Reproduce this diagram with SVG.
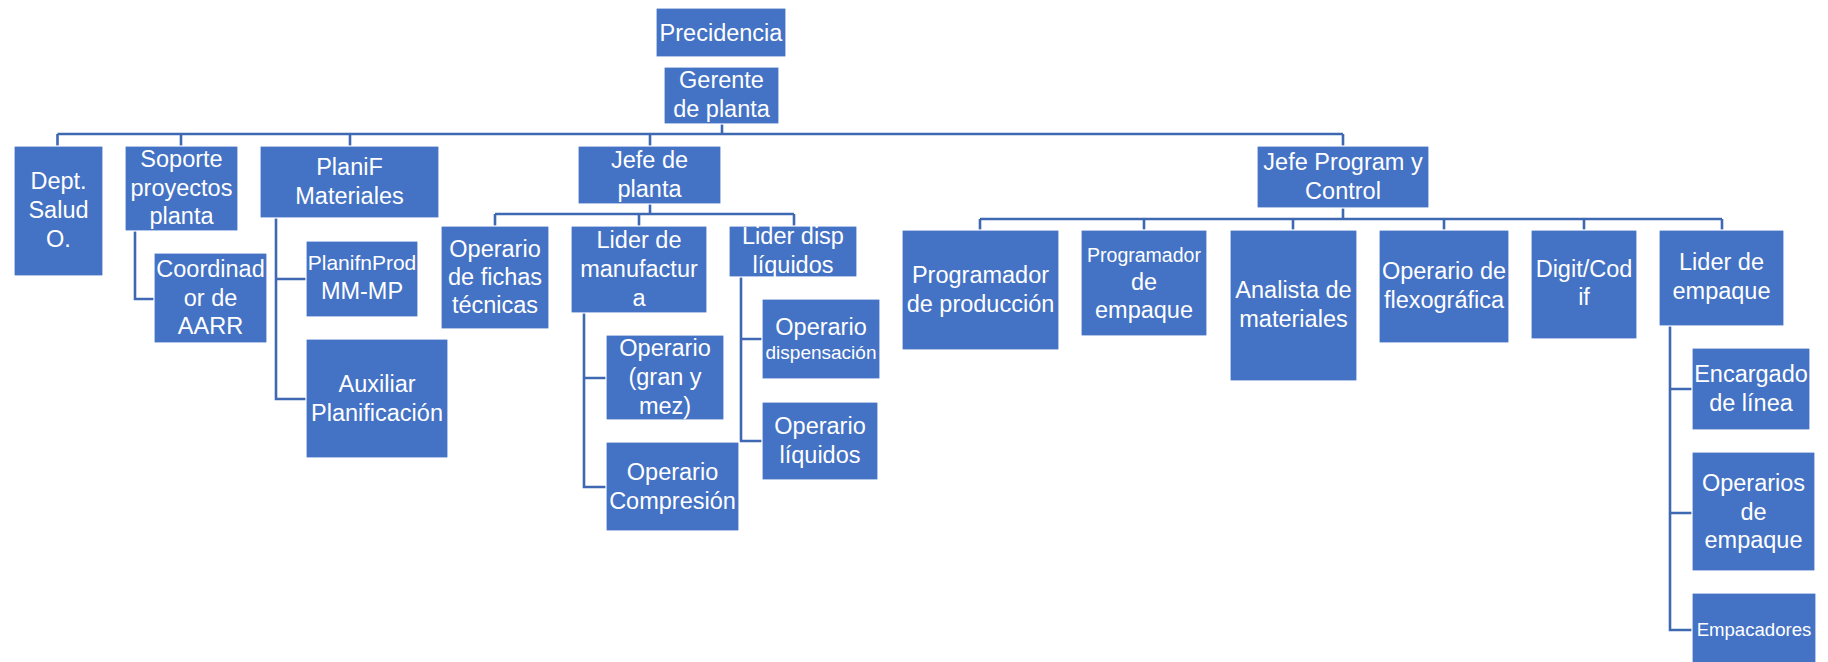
<svg xmlns="http://www.w3.org/2000/svg" width="1828" height="662" viewBox="0 0 1828 662">
  <style>
    .box { fill: #4472C4; stroke: #ffffff; stroke-width: 1.2; }
    .lbl { fill: #ffffff; font-family: "Liberation Sans", Arial, sans-serif; font-size: 23.5px; text-anchor: middle; }
    .sm { font-size: 19px; }
    .link { fill: none; stroke: #3F68B3; stroke-width: 2.6; }
  </style>
  <rect width="1828" height="662" fill="#ffffff"/>

  <!-- connectors -->
  <g id="connectors" class="link">
    <!-- plant manager to its direct reports -->
    <path d="M722,124 V134"/>
    <path d="M57.5,134 H1343"/>
    <path d="M57.5,134 V146 M181,134 V146 M350,134 V146 M650,134 V146 M1343,134 V146"/>
    <!-- side branches -->
    <path d="M135,231 V299 H154"/>
    <path d="M276,218 V399 H306 M276,279 H306"/>
    <!-- Jefe de planta -->
    <path d="M650,204 V214 M495,214 H794 M495,214 V226 M639,214 V226 M794,214 V226"/>
    <path d="M584,313 V487 H606 M584,378 H606"/>
    <path d="M741,277 V441 H762 M741,339 H762"/>
    <!-- Jefe Program y Control -->
    <path d="M1343,208 V219 M980,219 H1722"/>
    <path d="M980,219 V230 M1144,219 V230 M1293,219 V230 M1444,219 V230 M1584,219 V230 M1722,219 V230"/>
    <path d="M1670,326 V630 H1692 M1670,389 H1692 M1670,513 H1692"/>
  </g>

  <g id="precidencia">
    <rect class="box" x="656" y="8" width="130" height="49"/>
    <text class="lbl" x="721" y="41">Precidencia</text>
  </g>
  <g id="gerente">
    <rect class="box" x="664" y="67" width="115" height="57"/>
    <text class="lbl" x="721.5" y="88">Gerente</text>
    <text class="lbl" x="721.5" y="117">de planta</text>
  </g>
  <g id="dept-salud">
    <rect class="box" x="14" y="146" width="89" height="130"/>
    <text class="lbl" x="58.5" y="189">Dept.</text>
    <text class="lbl" x="58.5" y="218">Salud</text>
    <text class="lbl" x="58.5" y="247">O.</text>
  </g>
  <g id="soporte">
    <rect class="box" x="125" y="146" width="113" height="85"/>
    <text class="lbl" x="181.5" y="167">Soporte</text>
    <text class="lbl" x="181.5" y="196">proyectos</text>
    <text class="lbl" x="181.5" y="224">planta</text>
  </g>
  <g id="planif">
    <rect class="box" x="260" y="146" width="179" height="72"/>
    <text class="lbl" x="349.5" y="175">PlaniF</text>
    <text class="lbl" x="349.5" y="204">Materiales</text>
  </g>
  <g id="jefe-planta">
    <rect class="box" x="578" y="146" width="143" height="58"/>
    <text class="lbl" x="649.5" y="168">Jefe de</text>
    <text class="lbl" x="649.5" y="197">planta</text>
  </g>
  <g id="jefe-program">
    <rect class="box" x="1257" y="146" width="172" height="62"/>
    <text class="lbl" x="1343" y="170">Jefe Program y</text>
    <text class="lbl" x="1343" y="199">Control</text>
  </g>
  <g id="operario-fichas">
    <rect class="box" x="441" y="226" width="108" height="103"/>
    <text class="lbl" x="495" y="257">Operario</text>
    <text class="lbl" x="495" y="285">de fichas</text>
    <text class="lbl" x="495" y="313">técnicas</text>
  </g>
  <g id="lider-manufactura">
    <rect class="box" x="571" y="226" width="136" height="87"/>
    <text class="lbl" x="639" y="248">Lider de</text>
    <text class="lbl" x="639" y="277">manufactur</text>
    <text class="lbl" x="639" y="306">a</text>
  </g>
  <g id="lider-disp">
    <rect class="box" x="729" y="226" width="128" height="51"/>
    <text class="lbl" x="793" y="244">Lider disp</text>
    <text class="lbl" x="793" y="273">líquidos</text>
  </g>
  <g id="coordinador">
    <rect class="box" x="154" y="253" width="113" height="90"/>
    <text class="lbl" x="210.5" y="277">Coordinad</text>
    <text class="lbl" x="210.5" y="306">or de</text>
    <text class="lbl" x="210.5" y="334">AARR</text>
  </g>
  <g id="planifnprod">
    <rect class="box" x="306" y="241" width="112" height="76"/>
    <text class="lbl" x="362" y="270" style="font-size:21px">PlanifnProd</text>
    <text class="lbl" x="362" y="299">MM-MP</text>
  </g>
  <g id="auxiliar">
    <rect class="box" x="306" y="339" width="142" height="119"/>
    <text class="lbl" x="377" y="392">Auxiliar</text>
    <text class="lbl" x="377" y="421">Planificación</text>
  </g>
  <g id="operario-gran">
    <rect class="box" x="606" y="335" width="118" height="85"/>
    <text class="lbl" x="665" y="356">Operario</text>
    <text class="lbl" x="665" y="385">(gran y</text>
    <text class="lbl" x="665" y="414">mez)</text>
  </g>
  <g id="operario-compresion">
    <rect class="box" x="606" y="442" width="133" height="89"/>
    <text class="lbl" x="672.5" y="480">Operario</text>
    <text class="lbl" x="672.5" y="509">Compresión</text>
  </g>
  <g id="operario-dispensacion">
    <rect class="box" x="762" y="299" width="118" height="80"/>
    <text class="lbl" x="821" y="335">Operario</text>
    <text class="lbl sm" x="821" y="359">dispensación</text>
  </g>
  <g id="operario-liquidos">
    <rect class="box" x="762" y="402" width="116" height="78"/>
    <text class="lbl" x="820" y="434">Operario</text>
    <text class="lbl" x="820" y="463">líquidos</text>
  </g>
  <g id="programador-produccion">
    <rect class="box" x="902" y="230" width="157" height="120"/>
    <text class="lbl" x="980.5" y="283">Programador</text>
    <text class="lbl" x="980.5" y="312">de producción</text>
  </g>
  <g id="programador-empaque">
    <rect class="box" x="1081" y="230" width="126" height="106"/>
    <text class="lbl" x="1144" y="262" style="font-size:19.5px">Programador</text>
    <text class="lbl" x="1144" y="290">de</text>
    <text class="lbl" x="1144" y="318">empaque</text>
  </g>
  <g id="analista">
    <rect class="box" x="1230" y="230" width="127" height="151"/>
    <text class="lbl" x="1293.5" y="298">Analista de</text>
    <text class="lbl" x="1293.5" y="327">materiales</text>
  </g>
  <g id="operario-flexo">
    <rect class="box" x="1379" y="230" width="130" height="113"/>
    <text class="lbl" x="1444" y="279">Operario de</text>
    <text class="lbl" x="1444" y="308">flexográfica</text>
  </g>
  <g id="digit">
    <rect class="box" x="1531" y="230" width="106" height="109"/>
    <text class="lbl" x="1584" y="277">Digit/Cod</text>
    <text class="lbl" x="1584" y="305">if</text>
  </g>
  <g id="lider-empaque">
    <rect class="box" x="1659" y="230" width="125" height="96"/>
    <text class="lbl" x="1721.5" y="270">Lider de</text>
    <text class="lbl" x="1721.5" y="299">empaque</text>
  </g>
  <g id="encargado">
    <rect class="box" x="1692" y="348" width="118" height="82"/>
    <text class="lbl" x="1751" y="382">Encargado</text>
    <text class="lbl" x="1751" y="411">de línea</text>
  </g>
  <g id="operarios-empaque">
    <rect class="box" x="1692" y="452" width="123" height="119"/>
    <text class="lbl" x="1753.5" y="491">Operarios</text>
    <text class="lbl" x="1753.5" y="520">de</text>
    <text class="lbl" x="1753.5" y="548">empaque</text>
  </g>
  <g id="empacadores">
    <rect class="box" x="1692" y="593" width="124" height="80"/>
    <text class="lbl" x="1754" y="636" style="font-size:18.6px">Empacadores</text>
  </g>
</svg>
